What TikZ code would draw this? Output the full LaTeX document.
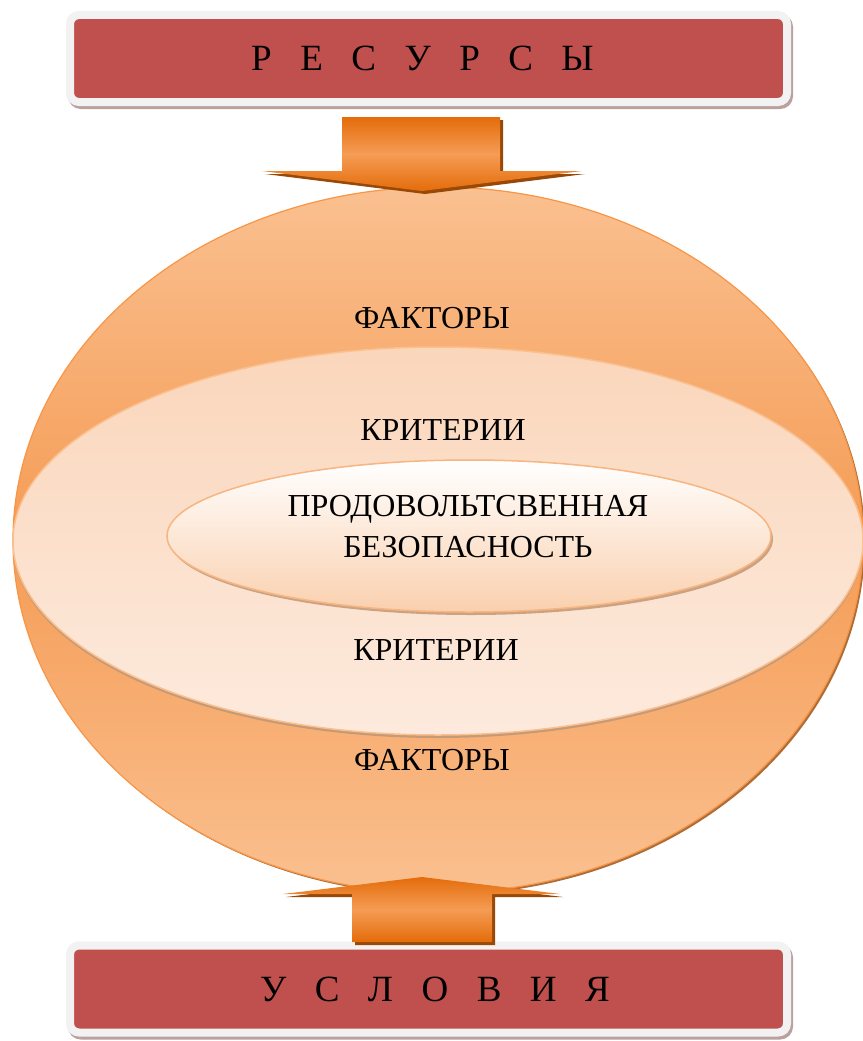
\documentclass[tikz,border=0pt]{standalone}
\usepackage{fontspec}
\setmainfont{Liberation Serif}
\usepackage{tikz}
\usetikzlibrary{shapes.geometric,shadows}
\usepackage{xcolor}

\definecolor{bannerred}{HTML}{C0504D}
\definecolor{framegray}{HTML}{F2F2F2}
\definecolor{frameshade}{HTML}{BBA0A0}
\definecolor{peach}{HTML}{FAC090}
\definecolor{deeporange}{HTML}{F79646}
\definecolor{midorange}{HTML}{F59C55}
\definecolor{darkorange}{HTML}{E46C0A}
\definecolor{brownshade}{HTML}{984807}
\definecolor{ringtop}{HTML}{FAD6BB}
\definecolor{ringbot}{HTML}{FDEADD}
\definecolor{coreline}{HTML}{F7B582}
\definecolor{corebot}{HTML}{FAD0AE}

\newcommand{\gap}{\hspace{28.5pt}}

\begin{document}
\begin{tikzpicture}[x=1pt,y=-1pt,
  banner/.style={rectangle,rounded corners=9pt,fill=bannerred,draw=framegray,line width=8pt,
    minimum width=717pt,minimum height=87pt,inner sep=0pt,text depth=0pt,
    font=\fontsize{37}{40}\selectfont,
    drop shadow={shadow xshift=2pt,shadow yshift=-3pt,fill=frameshade,draw=frameshade,line width=8pt,opacity=1}},
  arrowshade/.style={top color=darkorange,bottom color=darkorange,middle color=midorange,
    drop shadow={shadow xshift=3pt,shadow yshift=-3pt,fill=brownshade,opacity=1}},
  lbl/.style={anchor=base,font=\fontsize{32}{36}\selectfont}]
\useasboundingbox (0,0) rectangle (862,1041);

% the three ellipses
\node[ellipse,minimum width=850pt,minimum height=706pt,inner sep=0pt,draw=deeporange,line width=1.2pt,
  top color=peach,bottom color=peach,middle color=midorange,
  drop shadow={shadow xshift=2pt,shadow yshift=-2pt,fill=brownshade!80,opacity=1}] (globe) at (438,540) {};
\node[ellipse,minimum width=850pt,minimum height=388pt,inner sep=0pt,draw=peach,line width=1.5pt,
  top color=ringtop,bottom color=ringbot,
  drop shadow={shadow xshift=0pt,shadow yshift=-3pt,fill=brownshade!55,opacity=1}] (ring) at (438,541) {};
\node[ellipse,minimum width=604pt,minimum height=152pt,inner sep=0pt,draw=coreline,line width=1.5pt,
  top color=white,bottom color=corebot,
  drop shadow={shadow xshift=2pt,shadow yshift=-3pt,fill=brownshade!50,opacity=1}] (core) at (469,536) {};

% banners
\node[banner] (res) at (428.5,58.5) {Р\gap Е\gap С\gap У\gap Р\gap С\gap Ы\kern12pt};
\node[banner] (usl) at (428.5,989) {\hspace{13pt}У\gap С\gap Л\gap О\gap В\gap И\gap Я};

% block arrows
\shade[arrowshade] (342,117) -- (500,117) -- (500,171) -- (582,171) -- (422,191)
  -- (262,171) -- (342,171) -- cycle;
\shade[arrowshade] (352,942) -- (352,894) -- (283,894) -- (422,877) -- (560,894)
  -- (492,894) -- (492,942) -- cycle;

% labels
\node[lbl] (fak1) at (432,328) {ФАКТОРЫ};
\node[lbl] (krit1) at (443,440) {КРИТЕРИИ};
\node[font=\fontsize{32}{41}\selectfont,align=center] (fs) at (468,527) {ПРОДОВОЛЬТСВЕННАЯ\\БЕЗОПАСНОСТЬ};
\node[lbl] (krit2) at (436,660) {КРИТЕРИИ};
\node[lbl] (fak2) at (432,770) {ФАКТОРЫ};
\end{tikzpicture}
\end{document}
